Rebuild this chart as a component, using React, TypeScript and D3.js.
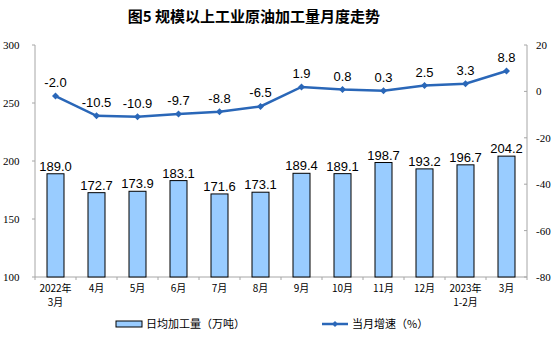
import React from "react";
import * as d3 from "d3";

const categories = ["2022年\n3月", "4月", "5月", "6月", "7月", "8月", "9月", "10月", "11月", "12月", "2023年\n1-2月", "3月"];
const dailyOutput = [189.0, 172.7, 173.9, 183.1, 171.6, 173.1, 189.4, 189.1, 198.7, 193.2, 196.7, 204.2];
const growth = [-2.0, -10.5, -10.9, -9.7, -8.8, -6.5, 1.9, 0.8, 0.3, 2.5, 3.3, 8.8];
const leftTicks = [100, 150, 200, 250, 300];
const rightTicks = [-80, -60, -40, -20, 0, 20];

const W = 559, H = 356;
const L = 35, R = 527, T = 45, B = 277;

export default function App() {
  const x = d3.scaleBand<number>().domain(d3.range(categories.length)).range([L, R]);
  const yL = d3.scaleLinear().domain([100, 300]).range([B, T]);
  const yR = d3.scaleLinear().domain([-80, 20]).range([B, T]);
  const bw = 17;
  const cx = (i: number) => (x(i) as number) + x.bandwidth() / 2;
  const line = d3.line<number>().x((_, i) => cx(i)).y((d) => yR(d));
  const lineColor = "#2a67b8";
  const sans = "Arial, 'Liberation Sans', 'Noto Sans CJK SC', sans-serif";
  const serif = "'Times New Roman', 'Liberation Serif', serif";
  const cjk = "'SimSun', 'Noto Sans CJK SC', sans-serif";

  return (
    <svg width={W} height={H} style={{ position: "absolute", left: 0, top: 0, background: "#fff" }}>
      <rect width={W} height={H} fill="#fff" />
      <text x={254} y={22} textAnchor="middle" fontSize={15} fontWeight="bold" fontFamily={cjk} fill="#000">
        图5  规模以上工业原油加工量月度走势
      </text>
      {/* axes */}
      <line x1={L} x2={L} y1={T} y2={B} stroke="#a6a6a6" />
      <line x1={R} x2={R} y1={T} y2={B} stroke="#a6a6a6" />
      <line x1={L} x2={R} y1={B} y2={B} stroke="#a6a6a6" />
      {leftTicks.map((t) => (
        <g key={"l" + t}>
          <line x1={L - 3} x2={L} y1={yL(t)} y2={yL(t)} stroke="#a6a6a6" />
          <text x={3} y={yL(t) + 4} fontSize={11} fontFamily={serif} fill="#000">{t}</text>
        </g>
      ))}
      {rightTicks.map((t) => (
        <g key={"r" + t}>
          <line x1={R - 3} x2={R} y1={yR(t)} y2={yR(t)} stroke="#a6a6a6" />
          <text x={536} y={yR(t) + 4} fontSize={11} fontFamily={serif} fill="#000">{t}</text>
        </g>
      ))}
      {d3.range(categories.length + 1).map((i) => {
        const xx = i < categories.length ? (x(i) as number) : R;
        return <line key={"xt" + i} x1={xx} x2={xx} y1={B} y2={B + 3} stroke="#a6a6a6" />;
      })}
      {/* bars */}
      {dailyOutput.map((v, i) => (
        <g key={"b" + i}>
          <rect x={cx(i) - bw / 2} y={yL(v)} width={bw} height={B - yL(v)} fill="#99ccff" stroke="#000" strokeWidth={1} />
          <text x={cx(i)} y={yL(v) - 3} textAnchor="middle" fontSize={13} fontFamily={sans} fill="#000">{v.toFixed(1)}</text>
        </g>
      ))}
      {/* line */}
      <path d={line(growth) || ""} fill="none" stroke={lineColor} strokeWidth={2.5} />
      {growth.map((v, i) => (
        <g key={"p" + i}>
          <path d={`M${cx(i)},${yR(v) - 3.5}L${cx(i) + 3.5},${yR(v)}L${cx(i)},${yR(v) + 3.5}L${cx(i) - 3.5},${yR(v)}Z`} fill={lineColor} />
          <text x={cx(i)} y={yR(v) - 9} textAnchor="middle" fontSize={13} fontFamily={sans} fill="#000">{v.toFixed(1)}</text>
        </g>
      ))}
      {/* category labels */}
      {categories.map((c, i) =>
        c.split("\n").map((s, k) => (
          <text key={"c" + i + k} x={cx(i)} y={292 + k * 14} textAnchor="middle" fontSize={10} fontFamily={cjk} fill="#000">{s}</text>
        ))
      )}
      {/* legend */}
      <rect x={116} y={321} width={26} height={6} fill="#99ccff" stroke="#000" strokeWidth={1} />
      <text x={146} y={328} fontSize={11} fontFamily={cjk} fill="#000">日均加工量（万吨）</text>
      <line x1={322} x2={348} y1={324} y2={324} stroke={lineColor} strokeWidth={2.5} />
      <path d="M335,321L338,324L335,327L332,324Z" fill={lineColor} />
      <text x={352} y={328} fontSize={11} fontFamily={cjk} fill="#000">当月增速（%）</text>
    </svg>
  );
}
